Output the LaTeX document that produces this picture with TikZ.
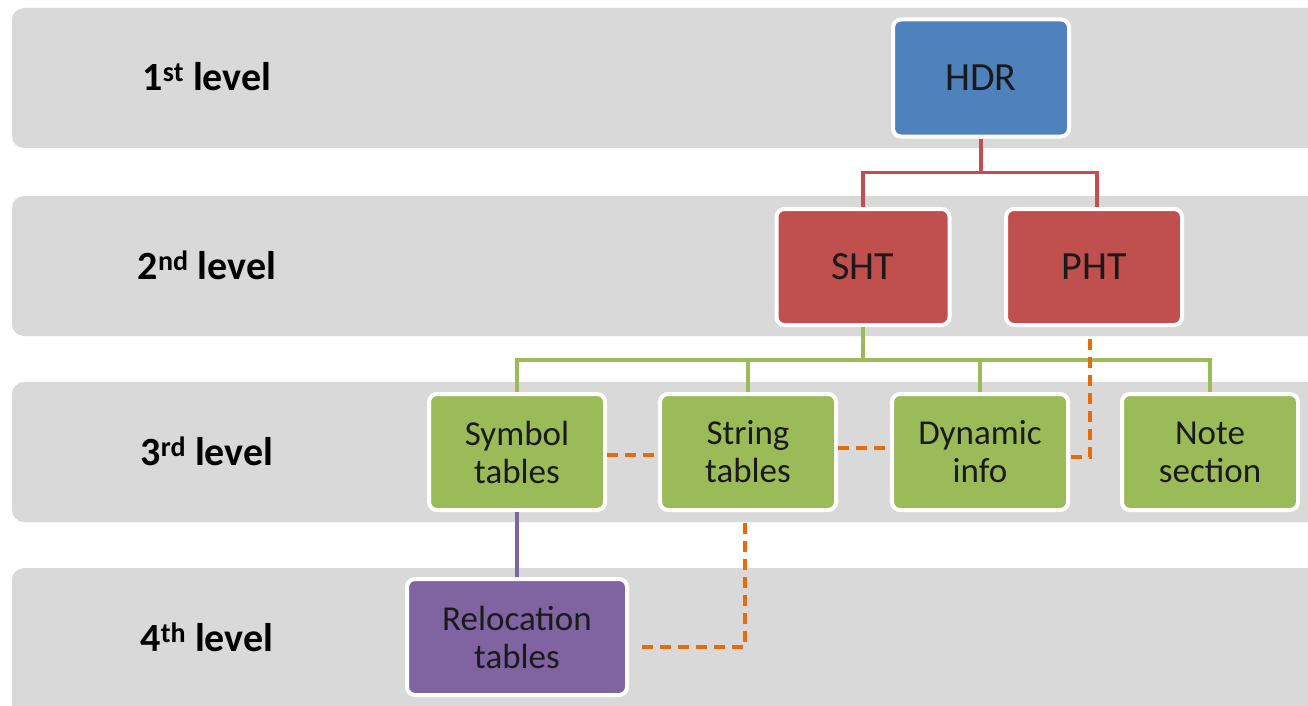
\documentclass[tikz,border=0pt]{standalone}
\usepackage{fontspec}
\setmainfont{Carlito}
\definecolor{bandgray}{HTML}{D9D9D9}
\definecolor{cblue}{HTML}{4F81BD}
\definecolor{cred}{HTML}{C0504D}
\definecolor{cgreen}{HTML}{9BBB59}
\definecolor{cpurple}{HTML}{8064A2}
\definecolor{corange}{HTML}{E46C0A}
\definecolor{ctext}{HTML}{1A1A1A}
\begin{document}
\begin{tikzpicture}[x=1pt,y=-1pt,
  band/.style={fill=bandgray, rounded corners=12pt},
  lvl/.style={font=\fontsize{40}{44}\selectfont\bfseries, text=black},
  box/.style={rectangle, rounded corners=8pt, draw=white, line width=4pt,
    minimum height=116pt, text=ctext, align=center, inner sep=0pt},
  big/.style={box, font=\fontsize{40}{44}\selectfont},
  small/.style={box, font=\fontsize{35}{38}\selectfont, minimum width=176pt},
  redline/.style={draw=cred, line width=3.5pt},
  greenline/.style={draw=cgreen, line width=3.5pt},
  purpleline/.style={draw=cpurple, line width=3.5pt},
  orangedash/.style={draw=corange, line width=3.5pt, dash pattern=on 11pt off 7pt}]
\clip (0,0) rectangle (1308,706);
\fill[white] (0,0) rectangle (1308,706);
% bands
\fill[band] (12,8) rectangle (1330,148);
\fill[band] (12,196) rectangle (1330,336);
\fill[band] (12,382) rectangle (1330,522);
\fill[band] (12,568) rectangle (1330,730);
% level labels
\node[lvl] (l1) at (207,77) {1\textsuperscript{st} level};
\node[lvl] (l2) at (207,265) {2\textsuperscript{nd} level};
\node[lvl] (l3) at (207,451) {3\textsuperscript{rd} level};
\node[lvl] (l4) at (207,637) {4\textsuperscript{th} level};
% boxes
\node[big, fill=cblue, minimum width=176pt, minimum height=117pt] (hdr) at (981,78) {HDR};
\node[big, fill=cred, minimum width=173pt] (sht) at (863,267) {SHT};
\node[big, fill=cred, minimum width=176pt] (pht) at (1094,267) {PHT};
\node[small, fill=cgreen] (sym) at (517,452) {Symbol\\tables};
\node[small, fill=cgreen] (str) at (748,452) {String\\tables};
\node[small, fill=cgreen] (dyn) at (980,452) {Dynamic\\info};
\node[small, fill=cgreen] (note) at (1210,452) {Note\\section};
\node[small, fill=cpurple, minimum width=220pt] (rel) at (517,637) {Relocation\\tables};
% red connectors
\draw[redline] (hdr.south) -- ++(0,34) coordinate (r1) -| (sht.north);
\draw[redline] (r1) -| ([xshift=3pt]pht.north);
% green connectors
\draw[greenline] (sht.south) -- ++(0,33) coordinate (g1) -| (sym.north);
\draw[greenline] (g1) -| (str.north);
\draw[greenline] (g1) -| (dyn.north);
\draw[greenline] (g1) -| (note.north);
% purple
\draw[purpleline] (sym.south) -- (rel.north);
% orange dashed
\draw[orangedash] ([xshift=-4pt,yshift=-12pt]pht.south) |- ([yshift=-5pt]dyn.east);
\draw[orangedash] ([yshift=-3pt]sym.east) -- ([yshift=-3pt]str.west);
\draw[orangedash] ([yshift=4pt]str.east) -- ([yshift=4pt]dyn.west);
\draw[orangedash] ([xshift=-3pt,yshift=-11pt]str.south) |- ([xshift=6pt,yshift=-10pt]rel.east);
\end{tikzpicture}
\end{document}
